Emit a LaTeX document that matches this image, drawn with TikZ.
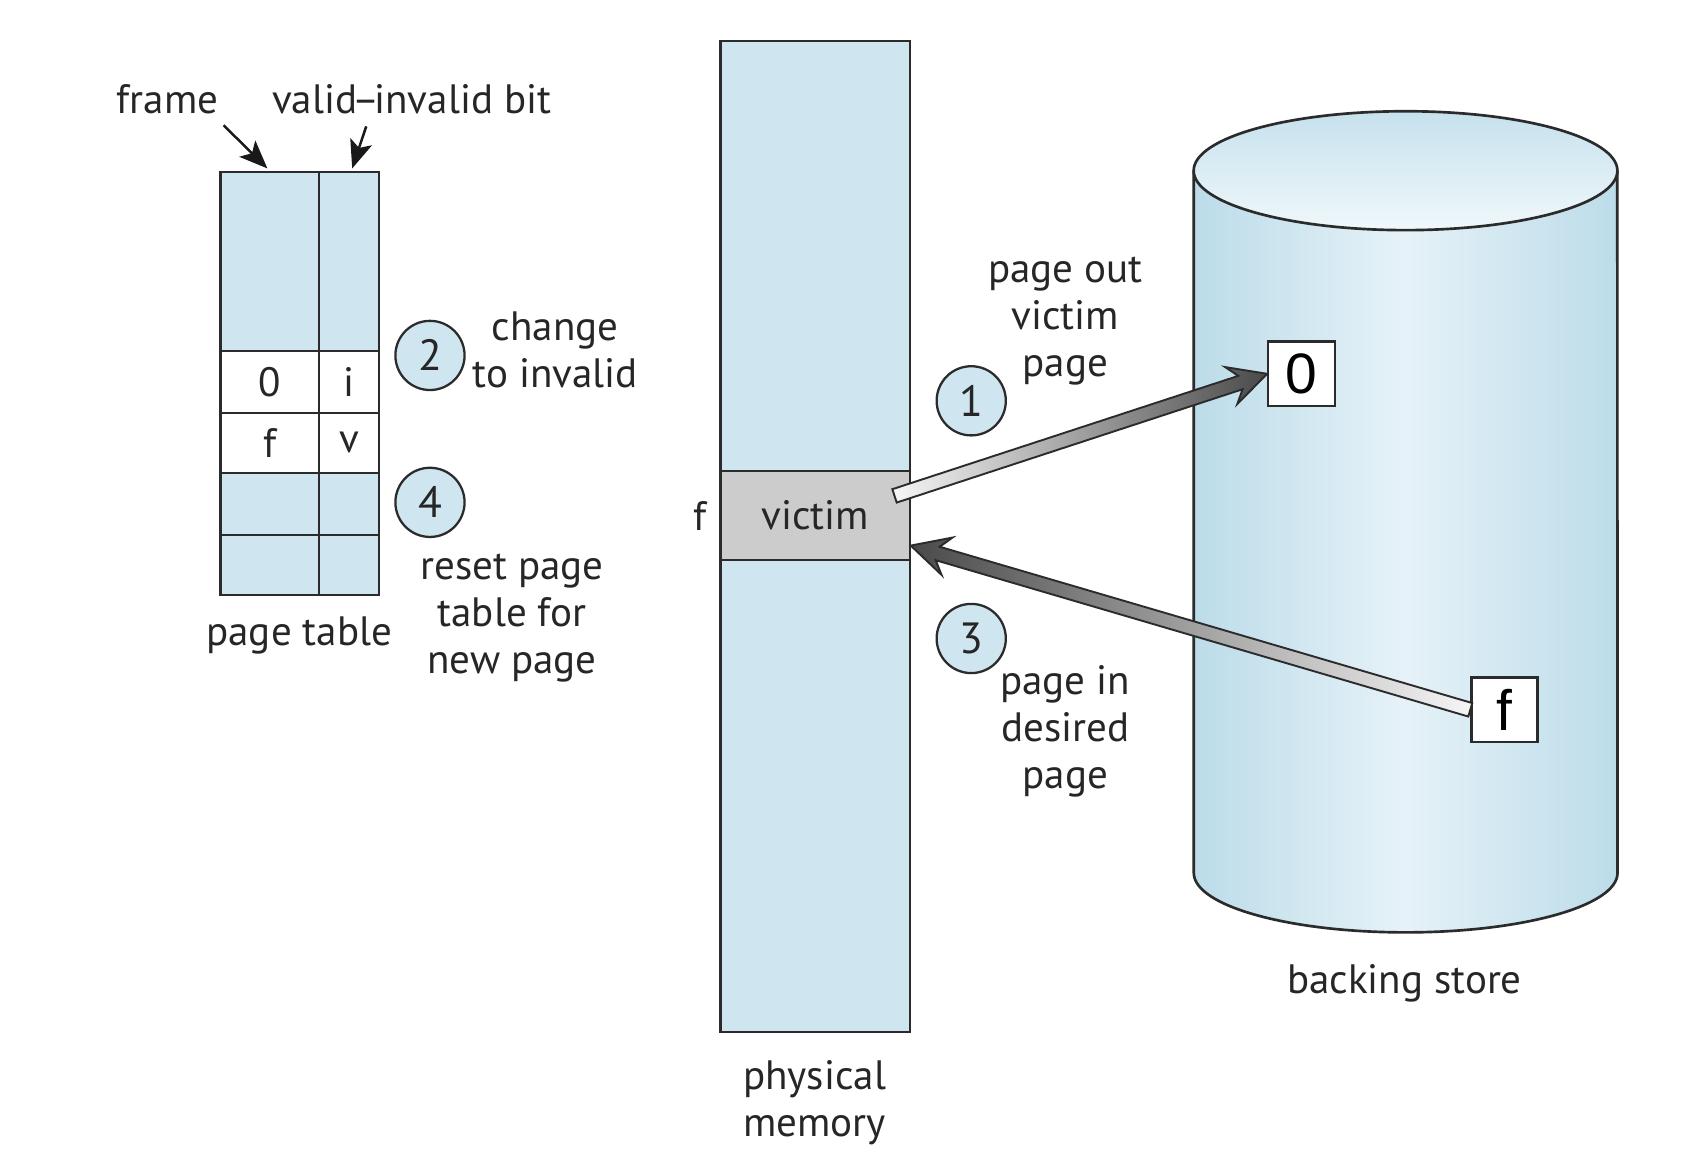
\documentclass[tikz,border=0pt]{standalone}
\usepackage{fontspec}
\setmainfont{PT Sans}
\newfontfamily\boxfont{Liberation Sans}
\usetikzlibrary{calc,arrows.meta}
\definecolor{lblue}{HTML}{CFE5EF}
\definecolor{lineclr}{HTML}{2B2B2B}
\definecolor{vgray}{HTML}{CCCCCC}
\definecolor{cyledge}{HTML}{BCDCE9}
\definecolor{cylmid}{HTML}{E6F2F8}
\definecolor{cyltop}{HTML}{C6E1ED}
\definecolor{cylbot}{HTML}{F0F8FB}
\definecolor{arrdark}{HTML}{4A4A4A}
\definecolor{arrlight}{HTML}{F6F6F6}
\newcommand\fatarrow[3]{%
  \coordinate (fa-hb) at ($(#2)!3.5mm!(#1)$);
  \coordinate (fa-hi) at ($(#2)!2.6mm!(#1)$);
  \shadedraw[fatarr,#3]
    ($(#1)!0.65mm!90:(#2)$) -- ($(fa-hi)!0.65mm!-90:(#1)$) -- ($(fa-hb)!1.8mm!-90:(#1)$)
    -- (#2) -- ($(fa-hb)!1.8mm!90:(#1)$) -- ($(fa-hi)!0.65mm!90:(#1)$)
    -- ($(#1)!0.65mm!-90:(#2)$) -- cycle;
}
\tikzset{
  txt/.style={font=\fontsize{10.8}{12.4}\selectfont, align=center, inner sep=0pt, text=black!85},
  cell/.style={draw=lineclr, line width=0.6pt, fill=lblue, inner sep=0pt, font=\fontsize{10.8}{12.4}\selectfont, text=black!85},
  wcell/.style={cell, fill=white},
  stepnum/.style={circle, draw=lineclr, line width=0.6pt, fill=lblue, minimum size=0.64cm, inner sep=0pt, font=\fontsize{11.5}{12}\selectfont, text=black!85},
  blockbox/.style={draw=lineclr, line width=0.6pt, fill=white, inner sep=0pt, font=\boxfont\fontsize{15}{16}\selectfont},
  ptr/.style={-{Stealth[length=2.6mm,width=2.1mm,inset=0.6mm]}, line width=0.65pt, draw=black!90},
  fatarr/.style={draw=lineclr, line width=0.5pt, line join=miter},
  outline/.style={draw=lineclr, line width=0.7pt}
}
\begin{document}
\begin{tikzpicture}[x=0.01cm,y=-0.01cm]
\useasboundingbox (0,0) rectangle (1568,1070);
\fill[white] (0,0) rectangle (1568,1070);

% ---------- page table ----------
\node[txt] (framelbl) at (155,92) {frame};
\node[txt] (viblbl) at (381,92) {valid\kern-0.12em–\kern-0.12em invalid bit};

\node[cell, minimum width=0.91cm, minimum height=1.66cm] (f0) at (249.5,242) {};
\node[cell, minimum width=0.56cm, minimum height=1.66cm] (v0) at (323,242) {};
\node[wcell, minimum width=0.91cm, minimum height=0.57cm] (f1) at (249.5,353.5) {0};
\node[wcell, minimum width=0.56cm, minimum height=0.57cm] (v1) at (323,353.5) {i};
\node[wcell, minimum width=0.91cm, minimum height=0.56cm] (f2) at (249.5,410) {f};
\node[wcell, minimum width=0.56cm, minimum height=0.56cm] (v2) at (323,410) {v};
\node[cell, minimum width=0.91cm, minimum height=0.57cm] (f3) at (249.5,466.5) {};
\node[cell, minimum width=0.56cm, minimum height=0.57cm] (v3) at (323,466.5) {};
\node[cell, minimum width=0.91cm, minimum height=0.56cm] (f4) at (249.5,523) {};
\node[cell, minimum width=0.56cm, minimum height=0.56cm] (v4) at (323,523) {};

\coordinate (fstart) at (207,116);
\coordinate (vstart) at (339,117);
\draw[ptr] (fstart) -- ($(f0.north)+(-2,-2)$);
\draw[ptr] (vstart) -- ($(v0.north)+(3,-2)$);

\node[txt] (ptlbl) at (277,588) {page table};

\node[stepnum] (c2) at (398,329) {2};
\node[txt] (chg) at (514,324) {change\\to invalid};
\node[stepnum] (c4) at (398,465) {4};
\node[txt] (reset) at (474,572) {reset page\\table for\\new page};

% ---------- physical memory ----------
\node[cell, minimum width=1.75cm, minimum height=9.17cm] (pm) at (754.5,496.5) {};
\node[cell, fill=vgray, minimum width=1.75cm, minimum height=0.82cm] (victim) at (754.5,477) {victim};
\node[txt] (flbl) at (648,478) {f};
\node[txt] (pmlbl) at (754,1021) {physical\\memory};

% ---------- backing store ----------
\path[left color=cyledge, right color=cyledge, middle color=cylmid]
  (1105,158) -- (1105,808) arc[start angle=180, end angle=360, x radius=1.96cm, y radius=0.55cm]
  -- (1497,158) -- cycle;
\draw[outline] (1105,158) -- (1105,808) arc[start angle=180, end angle=360, x radius=1.96cm, y radius=0.55cm]
  -- (1497,158);
\path[outline, top color=cyltop, bottom color=cylbot] (1301,158) ellipse[x radius=1.96cm, y radius=0.55cm];
\node[txt] (bslbl) at (1300,910) {backing store};

\node[blockbox, minimum width=0.62cm, minimum height=0.60cm] (box0) at (1205,346) {0};
\node[blockbox, minimum width=0.61cm, minimum height=0.60cm] (boxf) at (1392.5,657) {f};

% ---------- steps 1 and 3 ----------
\node[stepnum] (c1) at (899,371) {1};
\node[txt] (pout) at (986,297) {page out\\victim\\page};
\node[stepnum] (c3) at (899,591) {3};
\node[txt] (pin) at (986,677) {page in\\desired\\page};

\coordinate (outtail) at (828,459);
\coordinate (intip) at (843,505);
\fatarrow{outtail}{box0.west}{left color=arrlight, right color=arrdark}
\fatarrow{boxf.west}{intip}{left color=arrdark, right color=arrlight}
\end{tikzpicture}
\end{document}
